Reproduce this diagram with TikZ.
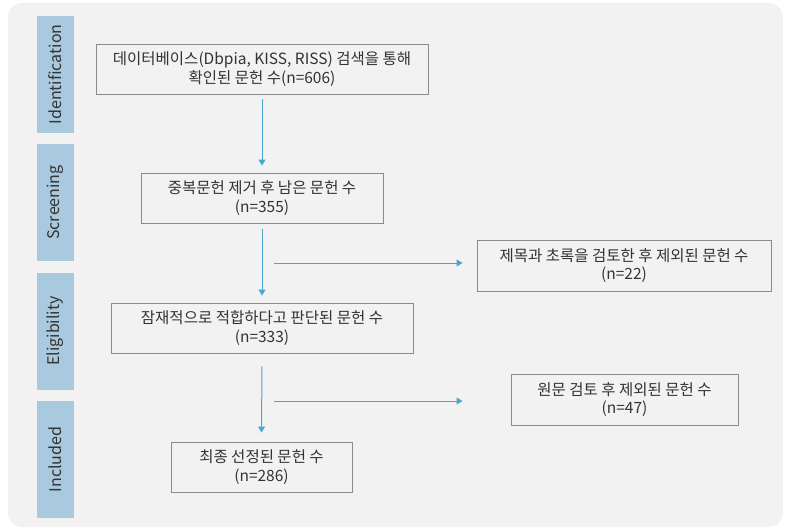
\documentclass[tikz,border=0pt]{standalone}
\usepackage{fontspec}
\setmainfont{Noto Sans CJK KR}
\usetikzlibrary{arrows.meta}
\definecolor{bgc}{HTML}{F2F2F2}
\definecolor{barc}{HTML}{A9C9DF}
\definecolor{arrc}{HTML}{4BA6D0}
\definecolor{boxc}{HTML}{8C8C8C}
\definecolor{txtc}{HTML}{333333}
\begin{document}
\begin{tikzpicture}[x=1pt,y=-1pt,
  phase/.style={fill=barc, text=txtc, rotate=90, minimum width=117pt, minimum height=37pt, inner sep=0pt, font=\fontsize{16}{18}\selectfont},
  stepbox/.style={draw=boxc, line width=0.9pt, fill=bgc, text=txtc, align=center, inner sep=0pt, font=\fontsize{15.5}{18.5}\selectfont},
  flow/.style={draw=arrc, line width=1pt, -{Triangle[length=6pt,width=7pt]}}]
\useasboundingbox (0,0) rectangle (789,529);
\fill[bgc, rounded corners=14pt] (8,3) rectangle (783,527);
\node[phase] (p1) at (55.5,74.5) {Identification};
\node[phase] (p2) at (55.5,202.5) {Screening};
\node[phase] (p3) at (55.5,331) {Eligibility};
\node[phase] (p4) at (55.5,459.5) {Included};
\node[stepbox, minimum width=332pt, minimum height=50pt] (b1) at (262,69) {데이터베이스(Dbpia, KISS, RISS) 검색을 통해\\확인된 문헌 수(n=606)};
\node[stepbox, minimum width=242pt, minimum height=50pt] (b2) at (262,198) {중복문헌 제거 후 남은 문헌 수\\(n=355)};
\node[stepbox, minimum width=294pt, minimum height=51pt] (b3) at (624,265.5) {제목과 초록을 검토한 후 제외된 문헌 수\\(n=22)};
\node[stepbox, minimum width=302pt, minimum height=50pt] (b4) at (262,328) {잠재적으로 적합하다고 판단된 문헌 수\\(n=333)};
\node[stepbox, minimum width=227pt, minimum height=51pt] (b5) at (624.5,399.5) {원문 검토 후 제외된 문헌 수\\(n=47)};
\node[stepbox, minimum width=181pt, minimum height=50pt] (b6) at (261.5,467) {최종 선정된 문헌 수\\(n=286)};
\draw[flow, shorten <=5pt, shorten >=7pt] (b1.south) -- (b2.north);
\draw[flow, shorten <=6pt, shorten >=7pt] (b2.south) -- (b4.north);
\draw[flow, shorten <=13pt, shorten >=9pt] (b4.south) -- (b6.north);
\coordinate (h1) at (274,263);
\coordinate (h2) at (274,401);
\draw[flow, shorten >=14pt] (h1) -- (b3.west |- h1);
\draw[flow, shorten >=48pt] (h2) -- (b5.west |- h2);
\end{tikzpicture}
\end{document}
